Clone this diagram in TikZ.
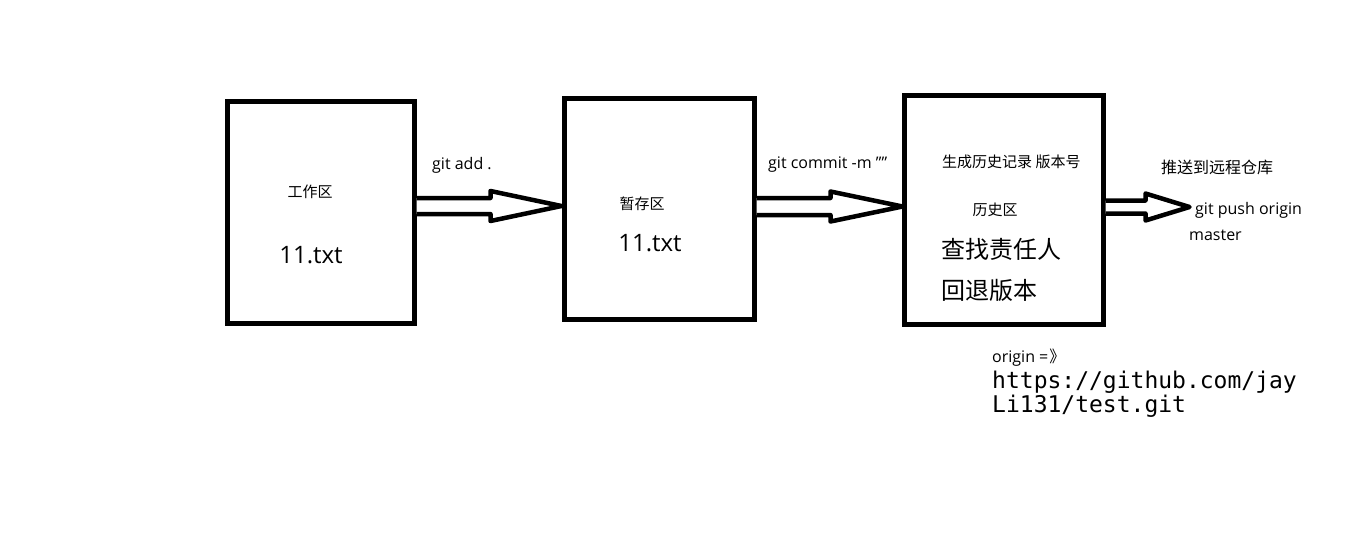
\documentclass[tikz,border=0pt]{standalone}
\usepackage{fontspec}
\setmainfont{Open Sans}
\newfontfamily\cjk{Noto Sans CJK SC}
\newfontfamily\mono{DejaVu Sans Mono}
\usetikzlibrary{calc}
\tikzset{
  box/.style={draw=black, line width=5pt, fill=white, inner sep=0pt},
  arrowline/.style={draw=black, line width=4.5pt, line join=round, fill=white},
  lbl/.style={inner sep=0pt, font=\fontsize{16}{18}\selectfont, text=black},
  cjks/.style={inner sep=0pt, font=\cjk\fontsize{15}{17}\selectfont, text=black},
  cjkm/.style={inner sep=0pt, font=\cjk\fontsize{16}{18}\selectfont, text=black},
  cjkl/.style={inner sep=0pt, font=\cjk\fontsize{24}{26}\selectfont, text=black},
  big/.style={inner sep=0pt, font=\fontsize{24}{26}\selectfont, text=black},
  monol/.style={inner sep=0pt, font=\mono\fontsize{23}{25}\selectfont, text=black},
}
% #1 start, #2 shaft length, #3 head length, #4 shaft half width, #5 extra head half width
\newcommand\hollowarrow[5]{%
  \draw[arrowline] ($(#1)+(0,-#4)$) -- ++(#2,0) -- ++(0,-#5)
    -- ++(#3,#4+#5) -- ++(-#3,#4+#5) -- ++(0,-#5) -- ++(-#2,0);}
\begin{document}
\begin{tikzpicture}[x=1pt,y=-1pt]
\useasboundingbox[fill=white] (0,0) rectangle (1360,533);

\node[box, minimum width=187pt, minimum height=222pt] (b1) at (320.5,212) {};
\node[box, minimum width=190pt, minimum height=221pt] (b2) at (659,208.5) {};
\node[box, minimum width=199pt, minimum height=229pt] (b3) at (1003.5,209.5) {};

\coordinate (a1) at ($(b1.east)+(0,-6)$);
\coordinate (a2) at ($(b2.east)+(0,-2)$);
\coordinate (a3) at ($(b3.east)+(0,-2.5)$);
\hollowarrow{a1}{74}{71}{8}{7}
\hollowarrow{a2}{74}{72}{8.5}{6.5}
\hollowarrow{a3}{40}{44}{6.5}{7}

\node[cjks] (t1) at (310,192) {工作区};
\node[big] (f1) at (311,255) {11.txt};
\node[lbl, anchor=mid west] (l1) at (432,167) {git add .};

\node[cjks] (t2) at (642,204) {暂存区};
\node[big] (f2) at (650,243) {11.txt};
\node[lbl, anchor=mid west] (l2) at (768,166) {git commit -m \symbol{34}\symbol{34}};

\node[cjks, anchor=west] (h1) at (942,162) {生成历史记录 版本号};
\node[cjks] (h2) at (995,210) {历史区};
\node[cjkl, anchor=west] (h3) at (941,249) {查找责任人};
\node[cjkl, anchor=west] (h4) at (941,290) {回退版本};

\node[cjkm, anchor=west] (p1) at (1161,167) {推送到远程仓库};
\node[lbl, anchor=mid west] (p2) at (1195,212) {git push origin};
\node[lbl, anchor=mid west] (p3) at (1189,238) {master};

\node[lbl, anchor=mid west] (o1) at (992,360) {origin =\hspace{1pt}{\cjk 》}};
\node[monol, anchor=mid west] (o2) at (992,386) {https://github.com/jay};
\node[monol, anchor=mid west] (o3) at (992,410) {Li131/test.git};
\end{tikzpicture}
\end{document}
